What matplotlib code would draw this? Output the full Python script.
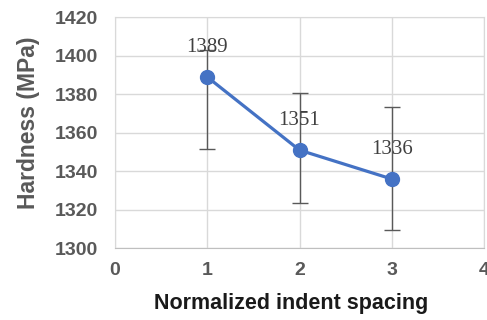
import matplotlib.pyplot as plt

# 数据
spacing = [1, 2, 3]
hardness = [1389, 1351, 1336]
err_minus = [37.5, 27.6, 26.3]
err_plus = [14.0, 29.7, 37.2]
x_ticks = [0, 1, 2, 3, 4]
y_ticks = [1300, 1320, 1340, 1360, 1380, 1400, 1420]


def main():
    plt.rcParams['font.family'] = ['Liberation Sans', 'DejaVu Sans']
    fig = plt.figure(figsize=(4.87, 3.2), dpi=100)
    ax = fig.add_axes([0.236, 0.224, 0.758, 0.722])

    ax.errorbar(spacing, hardness, yerr=[err_minus, err_plus], fmt='none',
                ecolor='#595959', elinewidth=1.0, capsize=6, capthick=1.0, zorder=3)
    ax.plot(spacing, hardness, color='#4472C4', linewidth=2.3, marker='o',
            markersize=10, zorder=4)

    for x, y in zip(spacing, hardness):
        ax.annotate(str(y), (x, y), xytext=(0, 21), textcoords='offset points',
                    ha='center', va='center', fontsize=15, color='#404040',
                    family=['Liberation Serif', 'DejaVu Serif'], zorder=5)

    ax.set_xlim(0, 4)
    ax.set_ylim(1300, 1420)
    ax.set_xticks(x_ticks)
    ax.set_yticks(y_ticks)
    ax.grid(True, color='#d9d9d9', linewidth=1.0)
    ax.set_axisbelow(True)
    for side in ['top', 'right', 'left']:
        ax.spines[side].set_color('#d9d9d9')
    ax.spines['bottom'].set_color('#bfbfbf')

    ax.tick_params(axis='both', length=0, labelsize=14, labelcolor='#595959')
    ax.tick_params(axis='x', pad=10)
    ax.tick_params(axis='y', pad=12)
    for lbl in ax.get_xticklabels() + ax.get_yticklabels():
        lbl.set_fontweight('bold')

    ax.set_xlabel('Normalized indent spacing', fontsize=15.5, fontweight='bold',
                  color='#1a1a1a', va='center', ha='center')
    ax.xaxis.set_label_coords(0.477, -0.238)
    ax.set_ylabel('Hardness (MPa)', fontsize=16.5, fontweight='bold',
                  color='#595959', va='center', ha='center')
    ax.yaxis.set_label_coords(-0.233, 0.545)

    plt.savefig('out.png', dpi=100)


if __name__ == '__main__':
    main()
